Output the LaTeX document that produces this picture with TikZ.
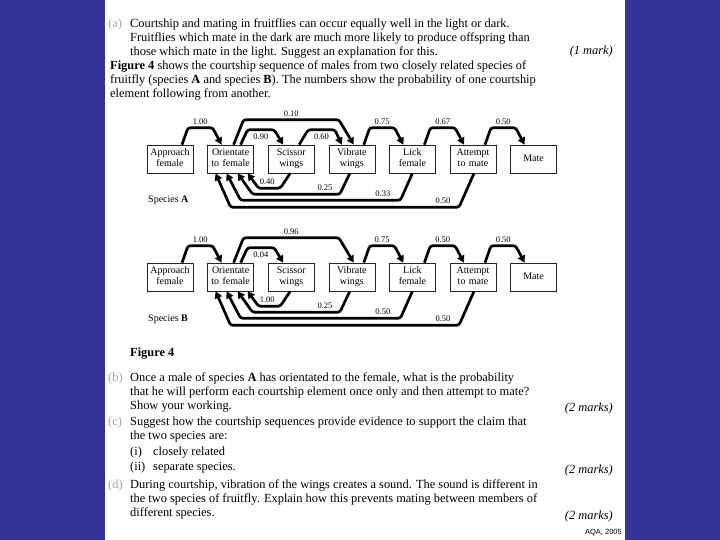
\documentclass[tikz,border=0pt]{standalone}
\usepackage{fontspec}
\setmainfont{Liberation Serif}
\newfontfamily\aqafont{Liberation Sans}
\usepackage{tikz}
\usetikzlibrary{positioning, calc, arrows.meta}

\definecolor{slideblue}{RGB}{51,51,153}

\tikzset{
  stage/.style={draw=black!85, fill=white, line width=0.6pt, text width=42pt, align=center,
    minimum height=28pt, inner sep=2pt, font=\fontsize{10}{10.5}\selectfont,
    execute at begin node=\strut, execute at end node=\strut},
  prob/.style={font=\fontsize{8.5}{9}\selectfont, inner sep=0.5pt},
  flow/.style={line width=2.7pt, rounded corners=2.5pt, -{Triangle[length=7pt,width=7.5pt]}},
  para/.style={anchor=north west, align=left, inner sep=0pt, font=\fontsize{12.4}{14}\selectfont},
  marks/.style={anchor=base east, inner sep=0pt, font=\fontsize{12.4}{14}\selectfont\itshape},
  qlabel/.style={anchor=north west, inner sep=0pt, text=black!35, font=\fontsize{12.4}{14}\selectfont},
}

\begin{document}
\begin{tikzpicture}[x=1pt, y=-1pt]
\useasboundingbox (0,0) rectangle (720,540);
\fill[slideblue] (0,0) rectangle (720,540);
\fill[white] (105,0) rectangle (625,540);

% question (a) and caption
\node[qlabel] (qa) at (108,19) {(a)};
\node[para] (txta) at (130,19) {Courtship and mating in fruitflies can occur equally well in the light or dark.\\
Fruitflies which mate in the dark are much more likely to produce offspring than\\
those which mate in the light. Suggest an explanation for this.};
\node[marks] (mka) at (613,55) {(1 mark)};
\node[para] (intro) at (110,61) {\textbf{Figure 4} shows the courtship sequence of males from two closely related species of\\
fruitfly (species \textbf{A} and species \textbf{B}). The numbers show the probability of one courtship\\
element following from another.};

% the two courtship sequences
\foreach \s/\y/\pOut/\pIn/\pLick/\pBack/\pRet in {A/159/0.10/0.90/0.67/0.40/0.33, B/277/0.96/0.04/0.50/1.00/0.50} {
  \node[stage] (ap\s) at (170,\y) {Approach\\female};
  \node[stage, right=14pt of ap\s] (or\s) {Orientate\\to female};
  \node[stage, right=14pt of or\s] (sc\s) {Scissor\\wings};
  \node[stage, right=14pt of sc\s] (vi\s) {Vibrate\\wings};
  \node[stage, right=14pt of vi\s] (li\s) {Lick\\female};
  \node[stage, right=14pt of li\s] (at\s) {Attempt\\to mate};
  \node[stage, right=14pt of at\s] (ma\s) {Mate};
  \node[anchor=base west, inner sep=0pt, font=\fontsize{10}{12}\selectfont] (sp\s) at (148,\y+44) {Species \textbf{\s}};

  \foreach \a/\b/\p in {ap/or/1.00, vi/li/0.75, li/at/\pLick, at/ma/0.50}
    \draw[flow] ($(\a\s.north)+(12,0)$) -- ($(\a\s.north)+(18,-17)$)
      -- node[prob, above=1.5pt] (p\a\s) {\p} ($(\b\s.north)+(-18,-17)$) -- ($(\b\s.north)+(-9,0)$);

  \draw[flow] ($(or\s.north)+(3,0)$) -- ($(or\s.north)+(13,-25)$)
    -- node[prob, above=1.5pt] (pout\s) {\pOut} ($(vi\s.north)+(-13,-25)$) -- ($(vi\s.north)+(2,0)$);
  \draw[flow] ($(or\s.north)+(10,0)$) -- ($(or\s.north)+(17,-15)$)
    -- node[prob, below=2pt] (pin\s) {\pIn} ($(sc\s.north)+(-17,-15)$) -- ($(sc\s.north)+(-8,0)$);

  % back to orientate
  \draw[flow] ($(sc\s.south)+(-1,0)$) -- ($(sc\s.south)+(-11,15)$)
    -- node[prob, above=1.5pt, pos=0.6] (pbs\s) {\pBack} ($(or\s.south)+(28,15)$) -- ($(or\s.south)+(17,0)$);
  \draw[flow] ($(vi\s.south)+(-2,0)$) -- ($(vi\s.south)+(-12,21)$)
    -- node[prob, above=1.5pt, pos=0.17] (pbv\s) {0.25} ($(or\s.south)+(22,21)$) -- ($(or\s.south)+(7,0)$);
  \draw[flow] (li\s.south) -- ($(li\s.south)+(-12,27)$)
    -- node[prob, above=1.5pt, pos=0.11] (pbl\s) {\pRet} ($(or\s.south)+(10,27)$) -- ($(or\s.south)+(-4,0)$);
  \draw[flow] ($(at\s.south)+(1,0)$) -- ($(at\s.south)+(-14,34)$)
    -- node[prob, above=1.5pt, pos=0.07] (pba\s) {0.50} ($(or\s.south)+(0,34)$) -- ($(or\s.south)+(-15,0)$);
}
% only species A
\draw[flow] ($(scA.north)+(8,0)$) -- ($(scA.north)+(17,-15)$)
  -- node[prob, below=2pt] (psvA) {0.60} ($(viA.north)+(-17,-15)$) -- ($(viA.north)+(-10,0)$);

% questions (b) to (d)
\node[anchor=base west, inner sep=0pt, font=\fontsize{12.4}{14}\selectfont\bfseries] (fig) at (130,356) {Figure 4};
\node[qlabel] (qb) at (108,373) {(b)};
\node[para] (txtb) at (130,373) {Once a male of species \textbf{A} has orientated to the female, what is the probability\\
that he will perform each courtship element once only and then attempt to mate?\\
Show your working.};
\node[marks] (mkb) at (613,411) {(2 marks)};
\node[qlabel] (qc) at (108,417) {(c)};
\node[para] (txtc) at (130,417) {Suggest how the courtship sequences provide evidence to support the claim that\\
the two species are:};
\node[anchor=base west, inner sep=0pt, font=\fontsize{12.4}{14}\selectfont] (ci) at (130,455) {(i)};
\node[anchor=base west, inner sep=0pt, font=\fontsize{12.4}{14}\selectfont] (cit) at (153,455) {closely related};
\node[anchor=base west, inner sep=0pt, font=\fontsize{12.4}{14}\selectfont] (cii) at (130,470) {(ii)};
\node[anchor=base west, inner sep=0pt, font=\fontsize{12.4}{14}\selectfont] (ciit) at (153,470) {separate species.};
\node[marks] (mkc) at (613,473) {(2 marks)};
\node[qlabel] (qd) at (108,480) {(d)};
\node[para] (txtd) at (130,480) {During courtship, vibration of the wings creates a sound. The sound is different in\\
the two species of fruitfly. Explain how this prevents mating between members of\\
different species.};
\node[marks] (mkd) at (613,519) {(2 marks)};
\node[anchor=base east, inner sep=0pt, font=\aqafont\fontsize{7.5}{9}\selectfont] (src) at (622,534) {AQA, 2005};
\end{tikzpicture}
\end{document}
